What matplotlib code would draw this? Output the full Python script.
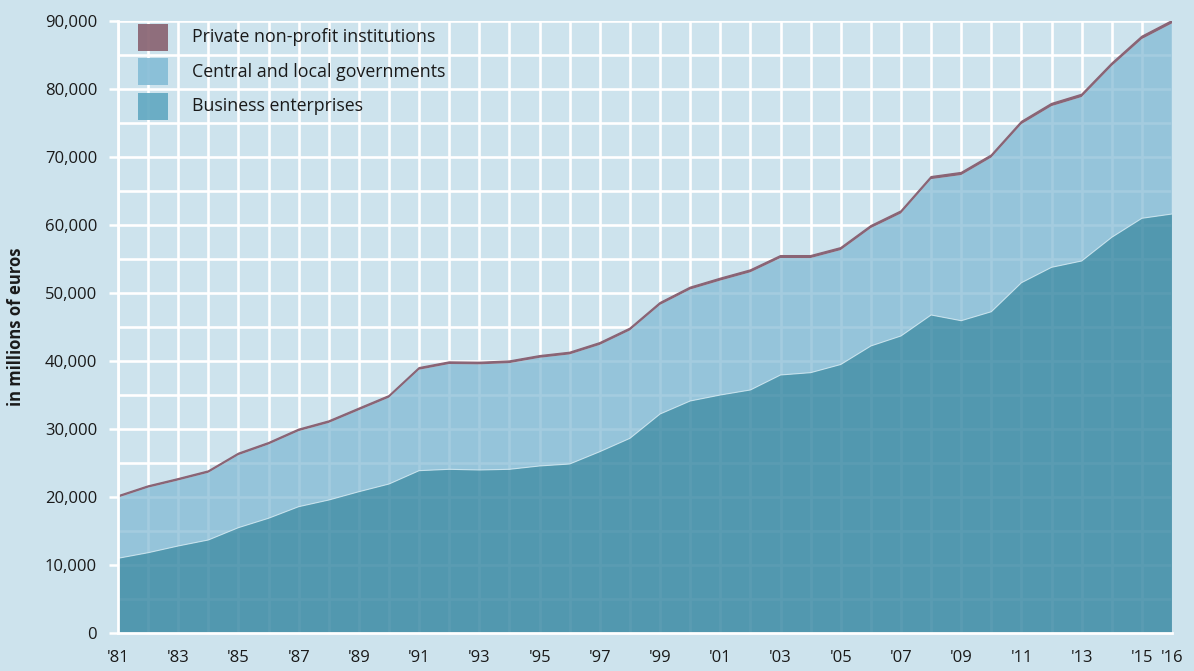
import matplotlib
matplotlib.use('Agg')
import matplotlib.pyplot as plt
from matplotlib.patches import Rectangle
import numpy as np

plt.rcParams['font.family'] = ['Open Sans', 'DejaVu Sans']

years = list(range(1981, 2017))
business = [11040, 11860, 12850, 13730, 15540, 16920, 18620, 19600, 20820, 21950,
            23910, 24110, 24010, 24110, 24600, 24890, 26700, 28660, 32230, 34140,
            35020, 35760, 37960, 38300, 39500, 42220, 43690, 46770, 45930, 47250,
            51510, 53770, 54700, 58180, 60970, 61600]
government = [8910, 9550, 9620, 9870, 10650, 10830, 11090, 11320, 11960, 12680,
              14820, 15460, 15510, 15590, 15880, 16090, 15680, 15840, 16020, 16370,
              16800, 17280, 17180, 16830, 16800, 17310, 17990, 19950, 21390, 22640,
              23290, 23670, 24080, 25160, 26320, 27990]
private = [250, 250, 260, 260, 270, 270, 280, 280, 290, 290,
           300, 300, 300, 310, 310, 310, 320, 320, 330, 330,
           340, 340, 340, 350, 350, 350, 360, 360, 370, 370,
           380, 380, 390, 390, 400, 400]
series_labels = ['Private non-profit institutions', 'Central and local governments', 'Business enterprises']
xtick_years = [1981, 1983, 1985, 1987, 1989, 1991, 1993, 1995, 1997, 1999, 2001,
               2003, 2005, 2007, 2009, 2011, 2013, 2015, 2016]
xtick_labels = ["'81", "'83", "'85", "'87", "'89", "'91", "'93", "'95", "'97", "'99",
                "'01", "'03", "'05", "'07", "'09", "'11", "'13", "'15", "'16"]
ytick_values = [0, 10000, 20000, 30000, 40000, 50000, 60000, 70000, 80000, 90000]
ytick_labels = ['0', '10,000', '20,000', '30,000', '40,000', '50,000', '60,000',
                '70,000', '80,000', '90,000']

BG = '#cde3ed'
BUS = '#3d8ba5'
GOV = '#7eb7d2'
PRIV = '#8a6475'
LEGEND_COLORS = ['#8a6472', '#86bdd7', '#63a9c2']

fig = plt.figure(figsize=(11.94, 6.71), dpi=100, facecolor=BG)
ax = fig.add_axes([0.0988, 0.0559, 0.8828, 0.9134])
ax.set_facecolor(BG)
ax.set_xlim(1981, 2016)
ax.set_ylim(0, 90000)
ax.set_axisbelow(True)

ax.set_xticks(range(1981, 2017), minor=True)
ax.set_yticks(range(0, 90001, 5000), minor=True)
ax.set_xticks(xtick_years)
ax.set_xticklabels(xtick_labels)
ax.set_yticks(ytick_values)
ax.set_yticklabels(ytick_labels)
ax.grid(which='both', color='white', lw=1.9)

polys = ax.stackplot(years, business, government, private,
                     colors=[BUS, GOV, PRIV], lw=0)
polys[0].set_alpha(0.85)
polys[1].set_alpha(0.7)
polys[2].set_alpha(1.0)

b = np.array(business)
g = np.array(government)
p = np.array(private)
ax.plot(years, b, color='#d6ebf3', lw=0.8, alpha=0.8)
ax.plot(years, b + g + p, color=PRIV, lw=1.0)

for s in ['top', 'right']:
    ax.spines[s].set_visible(False)
for s in ['left', 'bottom']:
    ax.spines[s].set_color('white')
    ax.spines[s].set_linewidth(2)
    ax.spines[s].set_zorder(5)

ax.tick_params(axis='y', which='major', direction='out', length=6.5, width=1.8,
               color='white', pad=8.5, labelsize=12, labelcolor='#1a1a1a')
ax.tick_params(axis='x', which='major', length=0, pad=12, labelsize=12,
               labelcolor='#1a1a1a')
ax.tick_params(which='minor', length=0)

ax.set_ylabel('in millions of euros', fontweight='bold', fontsize=12, color='#1a1a1a')
ax.yaxis.set_label_coords(-0.088, 0.5)

# manual legend (axes-fraction coordinates)
W = 1054.0
H = 613.0
for i, (lab, col) in enumerate(zip(series_labels, LEGEND_COLORS)):
    top_px = 3.4 + i * 34.5
    ax.add_patch(Rectangle((20 / W, 1 - (top_px + 27) / H), 30 / W, 27 / H,
                           transform=ax.transAxes, facecolor=col, edgecolor='none',
                           alpha=0.92, zorder=6, clip_on=False))
    ax.text(74 / W, 1 - (top_px + 13.5) / H, lab, transform=ax.transAxes,
            fontsize=12.8, color='#1a1a1a', va='center', ha='left', zorder=6)

fig.savefig('out.png', dpi=100, facecolor=BG)
